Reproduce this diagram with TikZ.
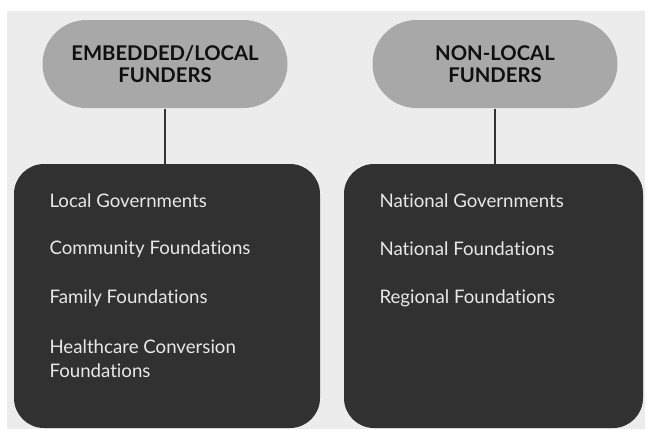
\documentclass[tikz,border=0pt]{standalone}
\usepackage{fontspec}
\setmainfont{Lato}[Ligatures={NoCommon,NoContextual}]

\tikzset{every picture/.style={line width=0.75pt}}
\tikzset{
  funder/.style={fill={rgb, 255:red, 168; green, 168; blue, 168 }, draw=none, rounded corners=33pt,
    minimum width=183.75pt, minimum height=66pt, align=center,
    font=\fontsize{15.2}{16}\selectfont\bfseries, text={rgb, 255:red, 15; green, 15; blue, 15 }},
  group/.style={fill={rgb, 255:red, 49; green, 49; blue, 49 }, draw=none, rounded corners=22.5pt,
    minimum height=198pt},
  item/.style={anchor=west, align=left, inner sep=0pt,
    font=\fontsize{14}{18}\selectfont, text={rgb, 255:red, 232; green, 232; blue, 232 }},
  link/.style={draw={rgb, 255:red, 51; green, 51; blue, 51 }, line width=1pt}
}

\begin{document}
\begin{tikzpicture}[x=0.75pt,y=0.75pt,yscale=-1,xscale=1]
\useasboundingbox (0,0) rectangle (647,430);

%Shape: Rectangle [background]
\fill [color={rgb, 255:red, 236; green, 236; blue, 236 }] (7,11) rectangle (645,429);

%Shape: Rounded Rect [funders]
\node [funder] (local) at (165,64) {EMBEDDED/LOCAL\\FUNDERS};
\node [funder] (nonlocal) at (495,64) {NON-LOCAL\\FUNDERS};

%Shape: Rounded Rect [groups]
\node [group, minimum width=229.5pt] (localbox) at (167,296) {};
\node [group, minimum width=224.25pt] (nonlocalbox) at (493.5,296) {};

%Straight Lines
\draw [link] (local.south) -- (local.south |- localbox.north);
\draw [link] (nonlocal.south) -- (nonlocal.south |- nonlocalbox.north);

% Text Node
\node [item] (lgov) at (49,201) {Local Governments};
\node [item] (cfound) at (49,249) {Community Foundations};
\node [item] (ffound) at (49,298) {Family Foundations};
\node [item] (hfound) at (49,359) {Healthcare Conversion\\Foundations};
% Text Node
\node [item] (ngov) at (379,201) {National Governments};
\node [item] (nfound) at (379,249) {National Foundations};
\node [item] (rfound) at (379,298) {Regional Foundations};

\end{tikzpicture}
\end{document}
